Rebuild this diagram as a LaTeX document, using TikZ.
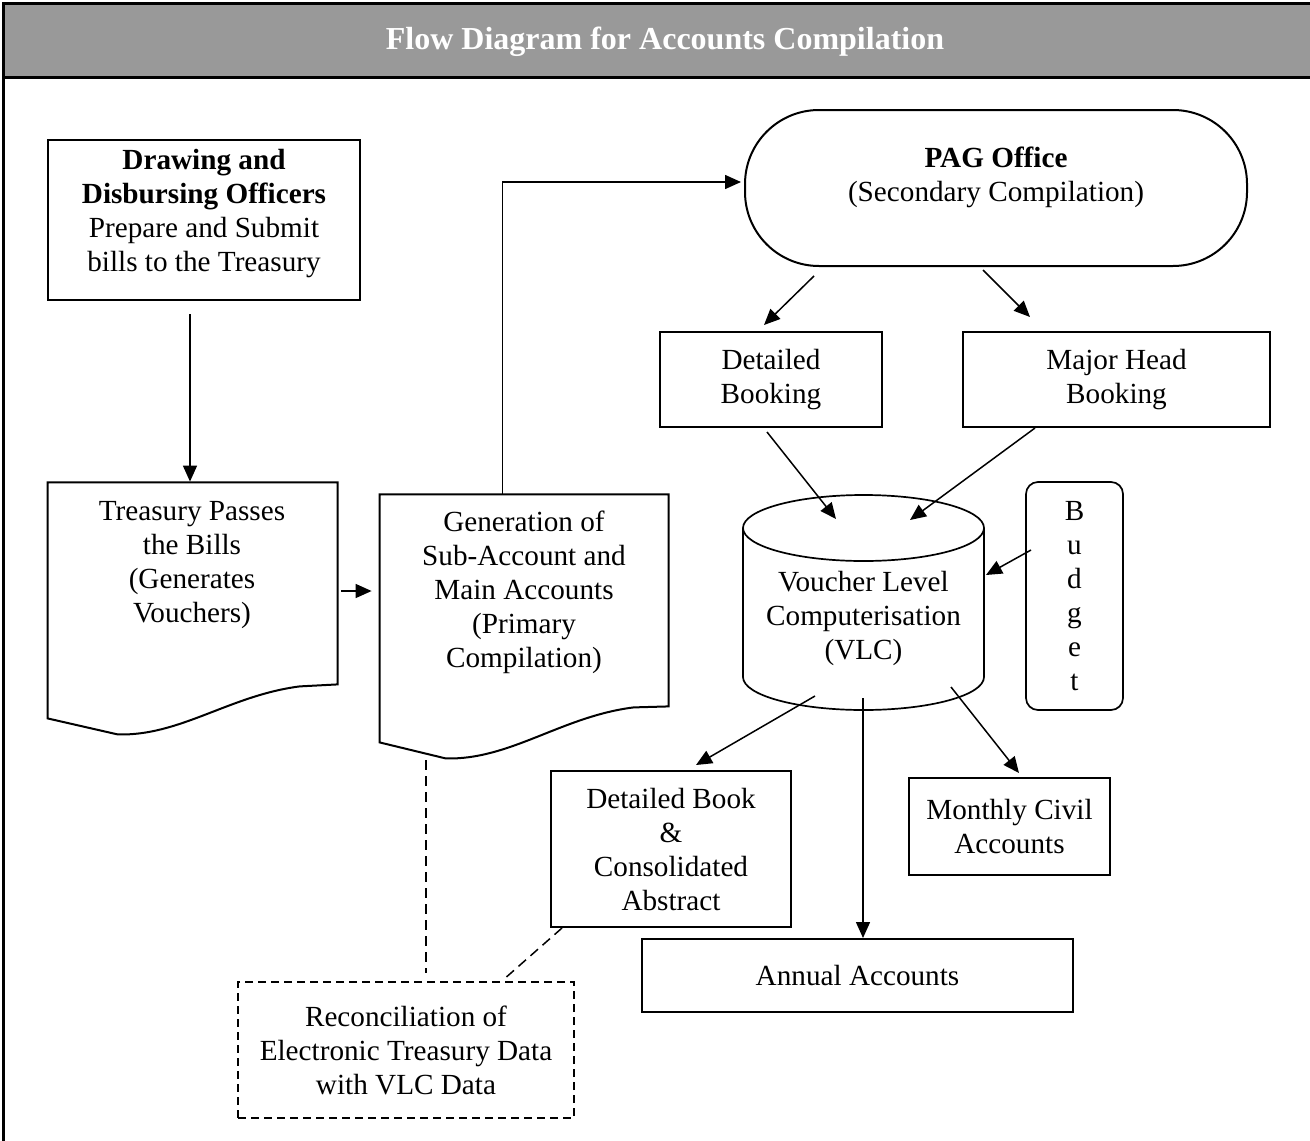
\documentclass[tikz,border=0pt]{standalone}
\usepackage{fontspec}
\setmainfont{Liberation Serif}
\usetikzlibrary{arrows.meta}
\definecolor{titlegray}{HTML}{999999}
\tikzset{
    box/.style={draw, line width=1pt, align=center, inner sep=0pt},
    blank/.style={inner sep=0pt},
    txt/.style={align=center, inner sep=0pt},
    conn/.style={line width=0.75pt, -{Triangle[length=8pt,width=7pt]}},
    dconn/.style={line width=0.75pt, dash pattern=on 5pt off 3pt},
}
\begin{document}
\begin{tikzpicture}[x=0.5pt, y=-0.5pt, font=\fontsize{14.6pt}{17pt}\selectfont]
        \useasboundingbox (0,0) rectangle (1310,1140);
        \clip (0,0) rectangle (1310,1140);

        \fill[titlegray] (3,3) rectangle (1330,77);
        \draw[line width=1.5pt] (3,3) rectangle (1330,1160);
        \draw[line width=1.5pt] (3,77) -- (1330,77);
        \node[txt, text=white, font=\fontsize{16pt}{19pt}\selectfont\bfseries] (title) at (665,42) {Flow Diagram for Accounts Compilation};

        \node[box, minimum width=156pt, minimum height=80pt] (ddo) at (204,220) {};
        \node[txt] (ddotxt) at (204,214) {\textbf{Drawing and}\\\textbf{Disbursing Officers}\\Prepare and Submit\\bills to the Treasury};

        \node[blank, minimum width=145pt, minimum height=118pt] (treas) at (193,600) {};
        \draw[line width=1pt, shift={(treas.south west)}] (0,0) -- (0,-236) -- (290,-236) -- (290,-34) -- (252,-32) .. controls (182,-23) and (132,18) .. (70,16) -- cycle;
        \node[txt] (treastxt) at (192,565) {Treasury Passes\\the Bills\\(Generates\\Vouchers)};

        \node[blank, minimum width=144.5pt, minimum height=124pt] (gen) at (524.5,618) {};
        \draw[line width=1pt, shift={(gen.south west)}] (0,0) -- (0,-248) -- (289,-248) -- (289,-36) -- (254,-35) .. controls (182,-26) and (130,18) .. (66,16) -- cycle;
        \node[txt] (gentxt) at (524,592) {Generation of\\Sub-Account and\\Main Accounts\\(Primary\\Compilation)};

        \node[box, rounded corners=37pt, minimum width=251pt, minimum height=78pt] (pag) at (996,188) {};
        \node[txt] (pagtxt) at (996,177) {\textbf{PAG Office}\\(Secondary Compilation)};
        \node[box, minimum width=111pt, minimum height=47.5pt] (dbook) at (771,379.5) {Detailed\\Booking};
        \node[box, minimum width=153.5pt, minimum height=47.5pt] (mhead) at (1116.5,379.5) {Major Head\\Booking};

        \node[txt] (vlc) at (863.5,618) {Voucher Level\\Computerisation\\(VLC)};
        \draw[line width=0.85pt, shift={(vlc.center)}] (-120.5,-90) -- (-120.5,59) arc[start angle=180, end angle=360, x radius=60.25pt, y radius=16.5pt] -- (120.5,-90);
        \draw[line width=0.85pt, shift={(vlc.center)}] (0,-90) ellipse [x radius=60.25pt, y radius=16.5pt];

        \node[box, line width=0.85pt, rounded corners=6pt, minimum width=48.5pt, minimum height=114pt] (budget) at (1074.5,596) {B\\u\\d\\g\\e\\t};
        \node[box, minimum width=120pt, minimum height=78pt] (dbk) at (671,849) {Detailed Book\\\&\\Consolidated\\Abstract};
        \node[box, minimum width=100.5pt, minimum height=48.5pt] (monthly) at (1009.5,826.5) {Monthly Civil\\Accounts};
        \node[box, minimum width=215.5pt, minimum height=36.5pt] (annual) at (857.5,975.5) {Annual Accounts};
        \node[box, dash pattern=on 4pt off 2.5pt, minimum width=168pt, minimum height=68pt] (recon) at (406,1050) {Reconciliation of\\Electronic Treasury Data\\with VLC Data};

        \draw[conn] ([shift={(-14,13)}]ddo.south) -- ([shift={(-3,0)}]treas.north);
        \draw[conn] ([shift={(3,-9)}]treas.east) -- ([shift={(-8,-27)}]gen.west);
        \draw[conn] ([shift={(-22,0)}]gen.north) |- ([shift={(-3,-6)}]pag.west);
        \draw[conn] ([shift={(-182,88)}]pag.center) -- ([shift={(-7,-54.5)}]dbook.center);
        \draw[conn] ([shift={(-13,82)}]pag.center) -- ([shift={(-86.5,-62.5)}]mhead.center);
        \draw[conn] ([shift={(-4,52.5)}]dbook.center) -- ([shift={(-27.5,-99)}]vlc.center);
        \draw[conn] ([shift={(-81.5,48.5)}]mhead.center) -- ([shift={(46.5,-98)}]vlc.center);
        \draw[conn] ([shift={(-43.5,-46)}]budget.center) -- ([shift={(122.5,-43)}]vlc.center);
        \draw[conn] ([shift={(-48.5,78)}]vlc.center) -- ([shift={(25,-84)}]dbk.center);
        \draw[conn] ([shift={(-0.5,80)}]vlc.center) -- ([shift={(5.5,0)}]annual.north);
        \draw[conn] ([shift={(87.5,69)}]vlc.center) -- ([shift={(9.5,-53.5)}]monthly.center);
        \draw[dconn] ([shift={(-98.5,142)}]gen.center) -- ([shift={(20,-77)}]recon.center);
        \draw[dconn] ([shift={(-109,79)}]dbk.center) -- ([shift={(97,-70)}]recon.center);

    \end{tikzpicture}
\end{document}
